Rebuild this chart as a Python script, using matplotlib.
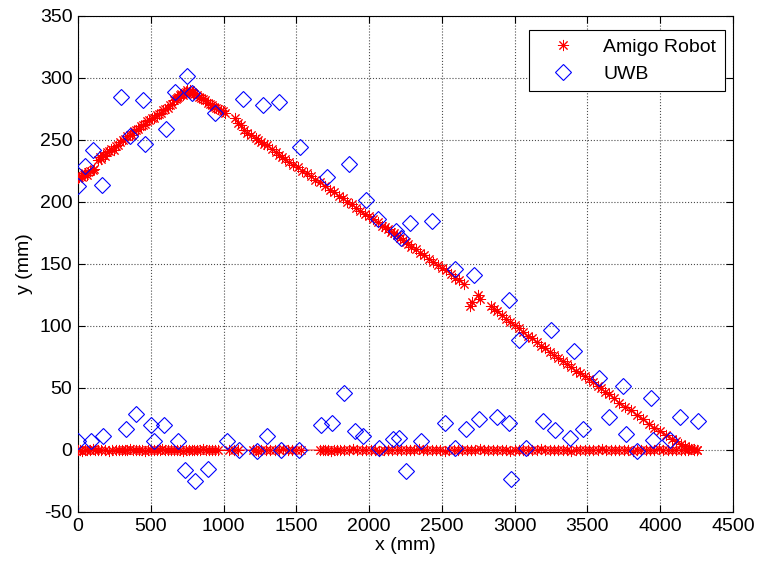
import numpy as np
import matplotlib
matplotlib.use("Agg")
import matplotlib.pyplot as plt

plt.rcParams['font.family'] = ['Liberation Sans', 'DejaVu Sans']
plt.rcParams['axes.unicode_minus'] = False

# ---- Amigo Robot trajectory (diagonal part, in pieces with gaps) ----
robot_a_x = [0, 10, 20, 30, 40, 50, 60, 70, 85, 100, 110]
robot_a_y = [219, 220, 221, 220, 222, 223, 222, 224, 225, 226, 227]

robot_b_x = [140, 150, 160, 175, 185, 200, 215, 230, 245, 260, 275, 290, 310, 325, 340,
             355, 370, 385, 400, 415, 430, 445, 460, 475, 490, 505, 520, 540, 555, 570,
             585, 600, 615, 630, 645, 660, 670, 680, 690, 700, 710, 720, 730, 740, 750,
             760, 770, 780, 790, 800, 815, 830, 845, 860, 875, 890, 905, 920, 935, 950,
             965, 980, 995, 1010]
robot_b_y = [234, 236, 235, 238, 237, 240, 241, 243, 242, 245, 246, 248, 250, 251, 253,
             254, 254, 257, 258, 259, 261, 262, 263, 265, 266, 268, 268, 270, 271, 272,
             274, 275, 276, 278, 279, 282, 283, 284, 285, 286, 287, 286, 288, 289, 290,
             289, 290, 289, 288, 287, 286, 285, 284, 283, 282, 280, 279, 278, 277, 276,
             275, 274, 273, 272]

robot_c_x = [1080, 1100, 1120, 1140, 1160, 1190, 1220, 1240, 1260, 1280, 1300, 1330, 1360,
             1380, 1400, 1420, 1450, 1480, 1510, 1540, 1570, 1600, 1630, 1660, 1700, 1730,
             1760, 1790, 1820, 1850, 1880, 1910, 1940, 1970, 2000, 2030, 2060, 2090, 2110,
             2130, 2150, 2170, 2190, 2210, 2230, 2250, 2270, 2290, 2320, 2350, 2380, 2410,
             2440, 2470, 2500, 2530, 2560, 2590, 2620, 2650]
robot_c_y = [268, 264, 262, 258, 256, 254, 252, 250, 248, 247, 246, 243, 240,
             238, 236, 235, 232, 230, 228, 225, 223, 221, 218, 216, 213, 210,
             208, 205, 203, 200, 198, 195, 193, 190, 189, 186, 184, 181, 180,
             178, 176, 175, 173, 171, 169, 168, 166, 164, 162, 159, 157, 154,
             152, 149, 147, 145, 142, 139, 137, 134]

robot_e_x = [2690, 2705]
robot_e_y = [116, 119]

robot_f_x = [2745, 2760]
robot_f_y = [125, 122]

robot_g_x = [2840, 2860, 2880, 2910, 2940, 2970, 3000, 3030, 3060, 3090, 3120, 3150, 3180,
             3210, 3240, 3270, 3300, 3330, 3360, 3390, 3420, 3450, 3480, 3510, 3540, 3570,
             3590, 3620, 3650, 3680, 3720, 3760, 3800, 3840, 3880, 3920, 3960, 4000, 4040,
             4080, 4110, 4140, 4170, 4200, 4230, 4250]
robot_g_y = [116, 114, 112, 109, 106, 103, 101, 98, 95, 92, 90, 87, 84,
             82, 79, 77, 74, 72, 69, 67, 64, 62, 60, 57, 55, 52,
             50, 47, 45, 42, 38, 35, 32, 28, 25, 21, 18, 15, 12,
             9, 7, 5, 3, 2, 1, 0]

# ---- Amigo Robot trajectory (floor part, y = 0) ----
robot_d_x = [0, 15, 30, 45, 60, 80, 100, 120, 140, 160, 185, 210, 235, 260, 280, 300, 320,
             340, 360, 380, 400, 420, 440, 460, 480, 500, 520, 540, 560, 580, 600, 620, 640,
             660, 680, 700, 720, 740, 760, 780, 800, 820, 840, 860, 880, 900, 920, 940, 960,
             1040, 1070, 1100, 1200, 1220, 1240, 1260, 1290, 1320, 1350, 1380, 1410, 1440,
             1470, 1500, 1530, 1660, 1680, 1700, 1720, 1740, 1760, 1780, 1800, 1830, 1860,
             1890, 1920, 1950, 1980, 2010, 2040, 2070, 2100, 2130, 2160, 2190, 2220, 2250,
             2280, 2310, 2340, 2370, 2400, 2430, 2460, 2490, 2520, 2550, 2580, 2610, 2640,
             2670, 2700, 2730, 2760, 2790, 2820, 2850, 2880, 2910, 2940, 2970, 3000, 3030,
             3060, 3090, 3120, 3150, 3180, 3210, 3240, 3270, 3300, 3330, 3360, 3390, 3420,
             3450, 3480, 3510, 3540, 3570, 3600, 3630, 3660, 3690, 3720, 3750, 3780, 3810,
             3840, 3870, 3900, 3930, 3960, 3990, 4020, 4050, 4080, 4110, 4140, 4170, 4190,
             4210, 4230, 4250]
robot_d_y = [0, 0, -1, 0, 0, 0, 1, 0, 0, 0, 0, -1, 0, 0, 0, 0, 0,
             0, 1, 0, 0, 0, 0, -1, 0, 0, 0, 0, 0, 1, 0, 0, 0,
             0, 0, 0, -1, 0, 0, 0, 0, 0, 0, 1, 0, 0, 0, 0, 0,
             0, 0, 0, 0, 0, -1, 0, 0, 0, 0, 0, 1, 0,
             0, 0, 0, 0, 0, 0, 0, -1, 0, 0, 0, 0, 0,
             1, 0, 0, 0, 0, 0, -1, 0, 0, 0, 0, 0, 0,
             0, 0, 1, 0, 0, 0, 0, 0, -1, 0, 0, 0, 0,
             0, 0, 0, 1, 0, 0, 0, 0, 0, 0, -1, 0, 0,
             0, 0, 0, 0, 1, 0, 0, 0, 0, 0, 0, -1, 0,
             0, 0, 0, 0, 0, 1, 0, 0, 0, 0, 0, 0, -1,
             0, 0, 0, 0, 0, 1, 0, 0, 0, 0, 0, 0, 0,
             1, 0, 0]

# ---- UWB measurements ----
uwb_x = [0, 48, 101, 163, 295, 357, 449, 460, 604, 666, 746, 780, 941, 1136, 1268, 1380,
         1525, 1708, 1864, 1978, 2058, 2184, 2218, 2280, 2429, 2589, 2720, 2960, 3029,
         3253, 3406, 3580, 3745, 3939, 4135, 4260,
         2, 89, 174, 330, 398, 499, 524, 593, 684, 735, 804, 891, 1026, 1106, 1232, 1300,
         1392, 1516, 1669, 1742, 1827, 1902, 1955, 2067, 2166, 2205, 2253, 2354, 2521,
         2589, 2669, 2754, 2876, 2960, 2972, 3081, 3195, 3276, 3379, 3471, 3647, 3768,
         3841, 3951, 4066]
uwb_y = [213, 229, 242, 214, 285, 253, 282, 247, 259, 289, 302, 288, 272, 283, 278, 281,
         244, 220, 231, 202, 186, 177, 171, 183, 185, 146, 141, 121, 89,
         97, 80, 58, 52, 42, 27, 23,
         7, 7, 11, 17, 29, 20, 7, 20, 7, -16, -25, -15, 7, 0, -1, 11,
         0, 0, 20, 22, 46, 15, 11, 2, 9, 10, -17, 7, 22,
         2, 17, 25, 27, 22, -23, 2, 23, 16, 10, 17, 27, 13,
         -1, 8, 8]

xticks = [0, 500, 1000, 1500, 2000, 2500, 3000, 3500, 4000, 4500]
yticks = [-50, 0, 50, 100, 150, 200, 250, 300, 350]

fig = plt.figure(figsize=(7.6, 5.66), dpi=100)
ax = fig.add_axes([78 / 760, 54 / 566, 655 / 760, 496 / 566])

asterisk = (8, 2, 0)
red = '#ff0000'
pieces = [(robot_a_x, robot_a_y), (robot_b_x, robot_b_y), (robot_c_x, robot_c_y),
          (robot_e_x, robot_e_y), (robot_f_x, robot_f_y), (robot_g_x, robot_g_y),
          (robot_d_x, robot_d_y)]
# connecting lines of the robot trajectory
for xs, ys in pieces:
    ax.plot(xs, ys, '-', color=red, lw=0.6, zorder=2)
all_rx = [v for xs, _ in pieces for v in xs]
all_ry = [v for _, ys in pieces for v in ys]
ax.plot(all_rx, all_ry, linestyle='none', marker=asterisk, ms=8, mew=0.7,
        color=red, label='Amigo Robot', zorder=3)
ax.plot(uwb_x, uwb_y, linestyle='none', marker='D', ms=8, mfc='none',
        mec='#0000ff', mew=0.8, label='UWB', zorder=4)

ax.set_xlim(0, 4500)
ax.set_ylim(-50, 350)
ax.set_xticks(xticks)
ax.set_yticks(yticks)
ax.tick_params(direction='in', length=5, width=0.8, top=True, right=True,
               labelsize=14, pad=4)
ax.grid(True, linestyle=':', color='0.3', linewidth=0.8)
for s in ax.spines.values():
    s.set_linewidth(0.8)
ax.set_xlabel('x (mm)', fontsize=14, labelpad=2)
ax.set_ylabel('y (mm)', fontsize=14, labelpad=5)

leg = ax.legend(loc='upper right', bbox_to_anchor=(0.988, 0.972), borderaxespad=0,
                fontsize=14, fancybox=False, edgecolor='black', framealpha=1,
                handlelength=2.6, handletextpad=0.8, borderpad=0.45,
                labelspacing=0.45)
leg.get_frame().set_linewidth(0.8)

fig.savefig('out.png', dpi=100)
